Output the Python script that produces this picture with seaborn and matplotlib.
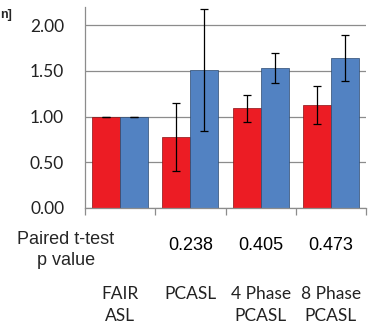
import matplotlib.pyplot as plt
import matplotlib.transforms as mtransforms
import seaborn as sns
import numpy as np
import pandas as pd

sns.set_theme(style="white")
plt.rcParams['font.family'] = ['Lato', 'DejaVu Sans']

# --- Data ---
methods = ['FAIR\nASL', 'PCASL', '4 Phase\nPCASL', '8 Phase\nPCASL']
series = ['Series 1', 'Series 2']
red_means = [1.00, 0.78, 1.09, 1.13]
red_err = [0.0, 0.37, 0.15, 0.21]
blue_means = [1.00, 1.51, 1.53, 1.64]
blue_err = [0.0, 0.67, 0.165, 0.255]
p_values = ['', '0.238', '0.405', '0.473']
bar_colors = ['#ec1c24', '#5282c2']

df = pd.DataFrame({
    'Method': methods * 2,
    'Series': [series[0]] * 4 + [series[1]] * 4,
    'Mean': red_means + blue_means,
    'Err': red_err + blue_err,
})

fig = plt.figure(figsize=(3.73, 3.27), dpi=100)
ax = fig.add_axes([85 / 373, 1 - 208 / 327, 281 / 373, 201 / 327])

sns.barplot(data=df, x='Method', y='Mean', hue='Series', palette=bar_colors,
            saturation=1, width=0.8, errorbar=None, legend=False, ax=ax,
            edgecolor='#8a1014', linewidth=0.5)
# darker edge for the blue bars
for p in ax.containers[1]:
    p.set_edgecolor('#2c4a70')

# error bars drawn at the bar centres
for cont, s in zip(ax.containers, series):
    sub = df[df['Series'] == s]
    xs = [b.get_x() + b.get_width() / 2 for b in cont]
    ax.errorbar(xs, sub['Mean'], yerr=sub['Err'], fmt='none', ecolor='black',
                elinewidth=0.9, capsize=3, capthick=0.9, zorder=5)

ax.set_ylim(0, 2.2)
ax.set_xlim(-0.5, 3.5)
ax.set_yticks([0, 0.5, 1.0, 1.5, 2.0])
ax.set_yticklabels([f"{v:.2f}" for v in [0, 0.5, 1.0, 1.5, 2.0]], fontsize=12.5,
                   color='#222222')
ax.tick_params(axis='y', length=0, pad=15)
ax.yaxis.grid(True, color='#8c8c8c', linewidth=0.9)
ax.set_axisbelow(True)

# category labels at centres, tick marks at category boundaries
ax.set_xticks(range(len(methods)))
ax.set_xticklabels(methods, fontsize=12.5, color='#222222', linespacing=1.45)
ax.set_xticks(np.arange(-0.5, 4, 1), minor=True)
ax.tick_params(axis='x', which='major', length=0, pad=56)
ax.tick_params(axis='x', which='minor', length=5, width=0.9, color='#8c8c8c',
               bottom=True)
ax.set_xlabel('')
ax.set_ylabel('')

for side in ['top', 'right']:
    ax.spines[side].set_visible(False)
for side in ['left', 'bottom']:
    ax.spines[side].set_color('#8c8c8c')
    ax.spines[side].set_linewidth(0.9)

# p value row under the axis
trans = mtransforms.blended_transform_factory(ax.transData, fig.transFigure)
for i, pv in enumerate(p_values):
    if pv:
        ax.text(i, 1 - 246 / 327, pv, transform=trans, ha='center', va='center',
                fontsize=13, family='Liberation Sans', color='black')
fig.text(66 / 373, 1 - 250 / 327, 'Paired t-test\np value', ha='center',
         va='center', fontsize=13, family='Liberation Sans', linespacing=1.25)

# cut-off axis title fragment at the top-left
fig.text(0.0, 1 - 15 / 327, 'n]', ha='left', va='center', fontsize=9,
         fontweight='bold', family='Liberation Sans')

fig.savefig('out.png', dpi=100)
